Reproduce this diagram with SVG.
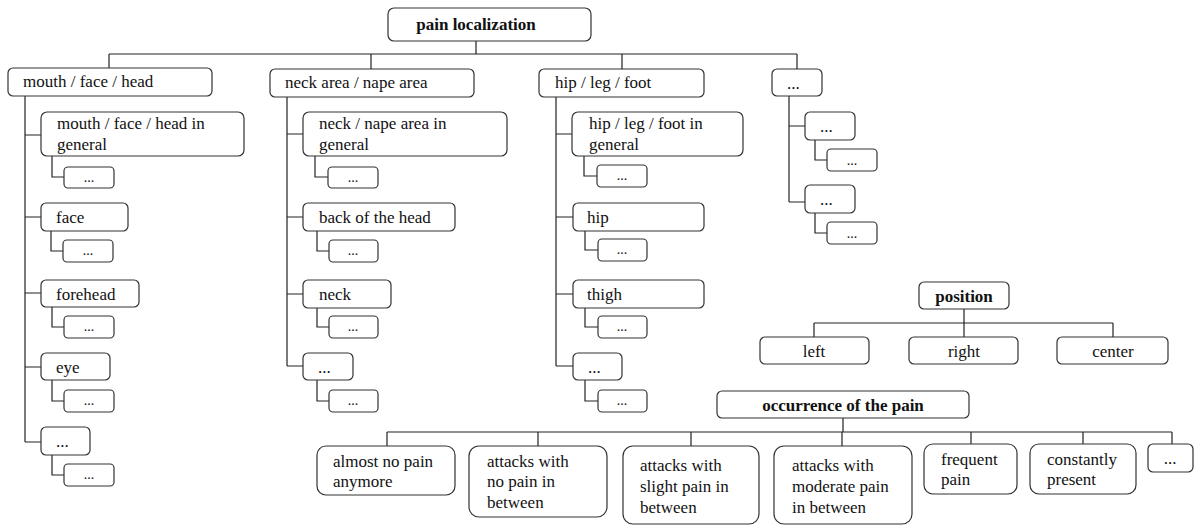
<svg xmlns="http://www.w3.org/2000/svg" width="1194" height="525" viewBox="0 0 1194 525">
<style>
rect{fill:#fff;stroke:#333;stroke-width:1.2}
text{font-family:"Liberation Serif","Times New Roman",serif;font-size:17px;fill:#111}
.b{font-weight:bold}
.s{font-size:14px}
.c{text-anchor:middle}
#connectors path{fill:none;stroke:#222;stroke-width:1.2}
</style>
<rect x="0" y="0" width="1194" height="525" style="fill:#fff;stroke:none"/>
<g id="connectors">
<path d="M476 41V54M109 54H797M109 54V68M371 54V69M622 54V69M797 54V69"/>
<path d="M25 96V442M25 135H41M25 217H41M25 293H41M25 367H41M25 442H41"/>
<path d="M52 156V177H64M51 231V251H63M52 307V327H64M52 380V401H64M52 455V475H64"/>
<path d="M287 97V366M287 134H303M287 217H303M287 294H303M287 366H303"/>
<path d="M315 156V177H328M317 231V251H329M317 308V327H329M317 380V401H329"/>
<path d="M556 97V366M556 134H572M556 217H573M556 294H573M556 366H573"/>
<path d="M584 156V176H597M585 231V250H598M585 308V327H598M585 380V401H598"/>
<path d="M789 96V202M789 126H805M789 202H805M815 140V160H827M815 213V233H827"/>
<path d="M964 309V323M814 323H1113M814 323V337M964 323V337M1113 323V337"/>
<path d="M843 418V432M387 432H1172M387 432V446M538 432V446M691 432V446M842 432V446M971 432V444M1083 432V444M1172 432V444"/>
</g>
<g id="root"><rect x="388" y="8" width="203" height="33" rx="6"/><text class="b c" x="476" y="30">pain localization</text></g>
<g id="mouth"><rect x="8" y="68" width="204" height="28" rx="5"/><text x="23" y="87">mouth / face / head</text></g>
<g id="mouth-general"><rect x="41" y="112" width="203" height="44" rx="6"/><text x="57" y="129">mouth / face / head in</text><text x="57" y="150">general</text></g>
<g id="mouth-general-sub"><rect x="64" y="167" width="50" height="21" rx="4"/><text class="s c" x="89" y="182">...</text></g>
<g id="face"><rect x="41" y="203" width="87" height="28" rx="5"/><text x="56" y="223">face</text></g>
<g id="face-sub"><rect x="63" y="240" width="50" height="22" rx="4"/><text class="s c" x="88" y="255">...</text></g>
<g id="forehead"><rect x="41" y="280" width="98" height="27" rx="5"/><text x="56" y="300">forehead</text></g>
<g id="forehead-sub"><rect x="64" y="316" width="50" height="22" rx="4"/><text class="s c" x="89" y="331">...</text></g>
<g id="eye"><rect x="41" y="353" width="69" height="27" rx="5"/><text x="56" y="373">eye</text></g>
<g id="eye-sub"><rect x="64" y="390" width="50" height="22" rx="4"/><text class="s c" x="89" y="405">...</text></g>
<g id="mouth-more"><rect x="41" y="427" width="49" height="28" rx="5"/><text x="56" y="447">...</text></g>
<g id="mouth-more-sub"><rect x="64" y="464" width="50" height="22" rx="4"/><text class="s c" x="89" y="479">...</text></g>
<g id="neck-area"><rect x="270" y="69" width="204" height="28" rx="5"/><text x="285" y="88">neck area / nape area</text></g>
<g id="neck-general"><rect x="303" y="112" width="204" height="44" rx="6"/><text x="319" y="129">neck / nape area in</text><text x="319" y="150">general</text></g>
<g id="neck-general-sub"><rect x="328" y="167" width="50" height="21" rx="4"/><text class="s c" x="353" y="182">...</text></g>
<g id="back-head"><rect x="303" y="203" width="152" height="28" rx="5"/><text x="319" y="223">back of the head</text></g>
<g id="back-head-sub"><rect x="329" y="240" width="49" height="22" rx="4"/><text class="s c" x="353" y="255">...</text></g>
<g id="neck"><rect x="303" y="280" width="88" height="28" rx="5"/><text x="319" y="300">neck</text></g>
<g id="neck-sub"><rect x="329" y="316" width="49" height="22" rx="4"/><text class="s c" x="353" y="331">...</text></g>
<g id="neck-more"><rect x="303" y="353" width="50" height="27" rx="5"/><text x="318" y="373">...</text></g>
<g id="neck-more-sub"><rect x="329" y="390" width="49" height="22" rx="4"/><text class="s c" x="353" y="405">...</text></g>
<g id="hip-leg"><rect x="539" y="69" width="165" height="28" rx="5"/><text x="555" y="88">hip / leg / foot</text></g>
<g id="hip-general"><rect x="572" y="112" width="171" height="44" rx="6"/><text x="589" y="129">hip / leg / foot in</text><text x="589" y="150">general</text></g>
<g id="hip-general-sub"><rect x="597" y="165" width="50" height="22" rx="4"/><text class="s c" x="622" y="180">...</text></g>
<g id="hip"><rect x="573" y="203" width="131" height="28" rx="5"/><text x="587" y="223">hip</text></g>
<g id="hip-sub"><rect x="598" y="239" width="49" height="22" rx="4"/><text class="s c" x="622" y="254">...</text></g>
<g id="thigh"><rect x="573" y="280" width="131" height="28" rx="5"/><text x="587" y="300">thigh</text></g>
<g id="thigh-sub"><rect x="598" y="316" width="49" height="22" rx="4"/><text class="s c" x="622" y="331">...</text></g>
<g id="hip-more"><rect x="573" y="353" width="49" height="27" rx="5"/><text x="588" y="373">...</text></g>
<g id="hip-more-sub"><rect x="598" y="390" width="49" height="22" rx="4"/><text class="s c" x="622" y="405">...</text></g>
<g id="other"><rect x="772" y="69" width="50" height="27" rx="5"/><text x="787" y="89">...</text></g>
<g id="other-1"><rect x="805" y="112" width="50" height="28" rx="5"/><text x="820" y="132">...</text></g>
<g id="other-1-sub"><rect x="827" y="149" width="50" height="22" rx="4"/><text class="s c" x="852" y="165">...</text></g>
<g id="other-2"><rect x="805" y="185" width="50" height="28" rx="5"/><text x="820" y="205">...</text></g>
<g id="other-2-sub"><rect x="827" y="222" width="50" height="22" rx="4"/><text class="s c" x="852" y="238">...</text></g>
<g id="position"><rect x="919" y="282" width="90" height="27" rx="5"/><text class="b c" x="964" y="302">position</text></g>
<g id="left"><rect x="760" y="337" width="109" height="27" rx="5"/><text class="c" x="814" y="357">left</text></g>
<g id="right"><rect x="909" y="337" width="109" height="27" rx="5"/><text class="c" x="964" y="357">right</text></g>
<g id="center"><rect x="1057" y="337" width="111" height="27" rx="5"/><text class="c" x="1113" y="357">center</text></g>
<g id="occurrence"><rect x="717" y="391" width="252" height="27" rx="5"/><text class="b c" x="843" y="411">occurrence of the pain</text></g>
<g id="almost-no-pain"><rect x="317" y="446" width="138" height="49" rx="9"/><text x="333" y="467">almost no pain</text><text x="333" y="487">anymore</text></g>
<g id="attacks-no-pain"><rect x="469" y="446" width="138" height="71" rx="10"/><text x="487" y="467">attacks with</text><text x="487" y="487">no pain in</text><text x="487" y="508">between</text></g>
<g id="attacks-slight"><rect x="623" y="446" width="136" height="78" rx="10"/><text x="640" y="471">attacks with</text><text x="640" y="492">slight pain in</text><text x="640" y="513">between</text></g>
<g id="attacks-moderate"><rect x="774" y="446" width="138" height="78" rx="10"/><text x="792" y="471">attacks with</text><text x="792" y="492">moderate pain</text><text x="792" y="513">in between</text></g>
<g id="frequent"><rect x="924" y="444" width="93" height="50" rx="9"/><text x="941" y="465">frequent</text><text x="941" y="485">pain</text></g>
<g id="constantly"><rect x="1030" y="444" width="106" height="50" rx="9"/><text x="1047" y="465">constantly</text><text x="1047" y="485">present</text></g>
<g id="occ-more"><rect x="1148" y="444" width="45" height="28" rx="5"/><text class="c" x="1170" y="464">...</text></g>
</svg>
